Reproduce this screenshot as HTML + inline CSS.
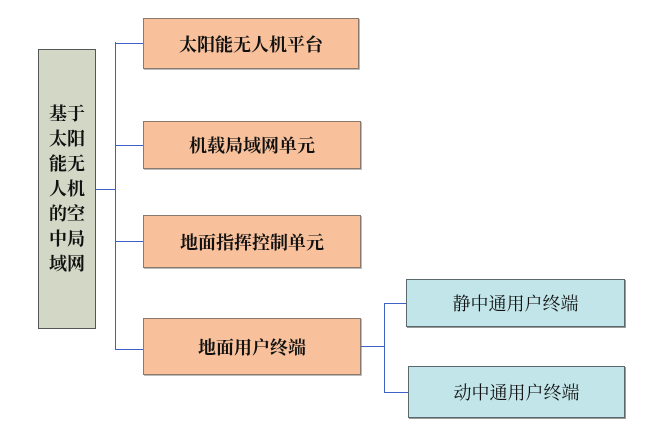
<!DOCTYPE html>
<html><head><meta charset="utf-8"><style>
body{margin:0;width:656px;height:443px;background:#fff;position:relative;overflow:hidden;font-family:"Liberation Serif","Noto Serif CJK SC",serif;}
.b{position:absolute;box-sizing:border-box;display:flex;align-items:center;justify-content:center;color:#111;}
.o{background:#f8c19b;border:1px solid #8a7a6e;font-size:18px;font-weight:bold;box-shadow:1px 1px 0 #bbb;}
.c{background:#c2e5e9;border:1px solid #5a6a6c;font-size:18px;box-shadow:1px 1px 0 #999;}
.l{position:absolute;background:#4060c8;}
</style></head><body>
<div class="b" style="left:38px;top:49px;width:58px;height:280px;background:#d3d7c6;border:1px solid #555;font-size:18px;font-weight:bold;line-height:25px;text-align:center;">基于<br>太阳<br>能无<br>人机<br>的空<br>中局<br>域网</div>
<div class="l" style="left:96px;top:189px;width:19px;height:1px"></div>
<div class="l" style="left:115px;top:42px;width:1px;height:308px"></div>
<div class="l" style="left:115px;top:43px;width:28px;height:1px"></div>
<div class="l" style="left:115px;top:145px;width:28px;height:1px"></div>
<div class="l" style="left:115px;top:241px;width:28px;height:1px"></div>
<div class="l" style="left:115px;top:349px;width:28px;height:1px"></div>
<div class="b o" style="left:143px;top:18px;width:216px;height:51px">太阳能无人机平台</div>
<div class="b o" style="left:143px;top:121px;width:218px;height:48px">机载局域网单元</div>
<div class="b o" style="left:143px;top:215px;width:218px;height:53px">地面指挥控制单元</div>
<div class="b o" style="left:143px;top:318px;width:218px;height:57px">地面用户终端</div>
<div class="l" style="left:361px;top:346px;width:23px;height:1px"></div>
<div class="l" style="left:384px;top:303px;width:1px;height:90px"></div>
<div class="l" style="left:384px;top:303px;width:22px;height:1px"></div>
<div class="l" style="left:384px;top:392px;width:24px;height:1px"></div>
<div class="b c" style="left:406px;top:279px;width:219px;height:48px">静中通用户终端</div>
<div class="b c" style="left:408px;top:366px;width:217px;height:52px">动中通用户终端</div>
</body></html>
